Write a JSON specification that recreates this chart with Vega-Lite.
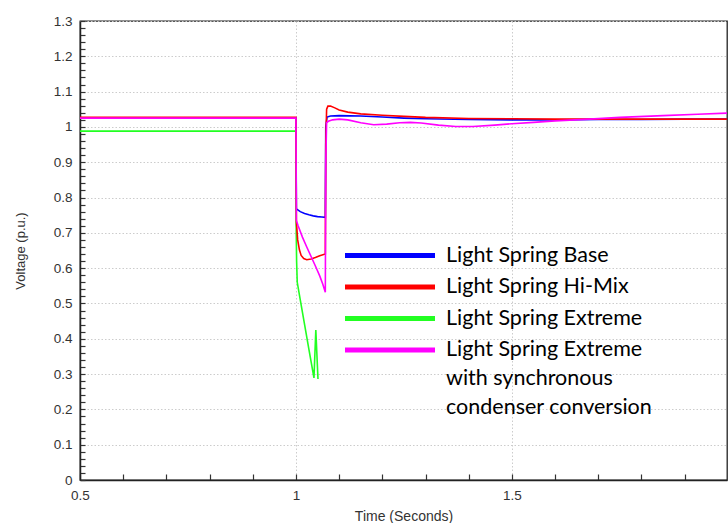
{
  "$schema": "https://vega.github.io/schema/vega-lite/v6.json",
  "autosize": {"type": "none"},
  "padding": {"left": 80, "top": 21, "right": 1, "bottom": 43},
  "width": 647,
  "height": 459,
  "background": "white",
  "config": {
    "view": {"stroke": "#222222", "strokeWidth": 1.3},
    "font": "Liberation Sans",
    "axis": {
      "labelFont": "Liberation Sans",
      "labelFontSize": 13.5,
      "labelColor": "#333333",
      "titleFont": "Liberation Sans",
      "titleFontWeight": "normal",
      "titleColor": "#333333",
      "domainColor": "#222222",
      "domainWidth": 1.5,
      "tickColor": "#333333",
      "tickWidth": 1.2,
      "gridDash": [1.5, 2],
      "gridWidth": 1,
      "labelOverlap": false,
      "labelFlush": false
    }
  },
  "data": {
    "values": [
      {"s": "Light Spring Base", "t": 0.5, "v": 1.025},
      {"s": "Light Spring Base", "t": 1.0, "v": 1.025},
      {"s": "Light Spring Base", "t": 1.001, "v": 0.768},
      {"s": "Light Spring Base", "t": 1.01, "v": 0.76},
      {"s": "Light Spring Base", "t": 1.02, "v": 0.755},
      {"s": "Light Spring Base", "t": 1.03, "v": 0.751},
      {"s": "Light Spring Base", "t": 1.04, "v": 0.748},
      {"s": "Light Spring Base", "t": 1.05, "v": 0.746},
      {"s": "Light Spring Base", "t": 1.06, "v": 0.745},
      {"s": "Light Spring Base", "t": 1.068, "v": 0.744},
      {"s": "Light Spring Base", "t": 1.069, "v": 1.0},
      {"s": "Light Spring Base", "t": 1.072, "v": 1.028},
      {"s": "Light Spring Base", "t": 1.08, "v": 1.031},
      {"s": "Light Spring Base", "t": 1.1, "v": 1.032},
      {"s": "Light Spring Base", "t": 1.15, "v": 1.031},
      {"s": "Light Spring Base", "t": 1.2, "v": 1.028},
      {"s": "Light Spring Base", "t": 1.25, "v": 1.025},
      {"s": "Light Spring Base", "t": 1.3, "v": 1.023},
      {"s": "Light Spring Base", "t": 1.4, "v": 1.021},
      {"s": "Light Spring Base", "t": 1.5, "v": 1.02},
      {"s": "Light Spring Base", "t": 1.6, "v": 1.02},
      {"s": "Light Spring Base", "t": 1.7, "v": 1.021},
      {"s": "Light Spring Base", "t": 1.8, "v": 1.021},
      {"s": "Light Spring Base", "t": 1.9, "v": 1.022},
      {"s": "Light Spring Base", "t": 1.998, "v": 1.022},

      {"s": "Light Spring Extreme", "t": 0.5, "v": 0.988},
      {"s": "Light Spring Extreme", "t": 1.0, "v": 0.988},
      {"s": "Light Spring Extreme", "t": 1.0005, "v": 0.72},
      {"s": "Light Spring Extreme", "t": 1.0015, "v": 0.62},
      {"s": "Light Spring Extreme", "t": 1.003, "v": 0.56},
      {"s": "Light Spring Extreme", "t": 1.01, "v": 0.51},
      {"s": "Light Spring Extreme", "t": 1.02, "v": 0.44},
      {"s": "Light Spring Extreme", "t": 1.03, "v": 0.37},
      {"s": "Light Spring Extreme", "t": 1.0417, "v": 0.289},
      {"s": "Light Spring Extreme", "t": 1.046, "v": 0.425},
      {"s": "Light Spring Extreme", "t": 1.051, "v": 0.286},

      {"s": "Light Spring Hi-Mix", "t": 0.5, "v": 1.027},
      {"s": "Light Spring Hi-Mix", "t": 1.0, "v": 1.027},
      {"s": "Light Spring Hi-Mix", "t": 1.001, "v": 0.73},
      {"s": "Light Spring Hi-Mix", "t": 1.004, "v": 0.68},
      {"s": "Light Spring Hi-Mix", "t": 1.008, "v": 0.652},
      {"s": "Light Spring Hi-Mix", "t": 1.012, "v": 0.636},
      {"s": "Light Spring Hi-Mix", "t": 1.018, "v": 0.627},
      {"s": "Light Spring Hi-Mix", "t": 1.025, "v": 0.624},
      {"s": "Light Spring Hi-Mix", "t": 1.035, "v": 0.626},
      {"s": "Light Spring Hi-Mix", "t": 1.045, "v": 0.63},
      {"s": "Light Spring Hi-Mix", "t": 1.055, "v": 0.635},
      {"s": "Light Spring Hi-Mix", "t": 1.068, "v": 0.64},
      {"s": "Light Spring Hi-Mix", "t": 1.069, "v": 0.95},
      {"s": "Light Spring Hi-Mix", "t": 1.071, "v": 1.05},
      {"s": "Light Spring Hi-Mix", "t": 1.074, "v": 1.059},
      {"s": "Light Spring Hi-Mix", "t": 1.08, "v": 1.059},
      {"s": "Light Spring Hi-Mix", "t": 1.09, "v": 1.054},
      {"s": "Light Spring Hi-Mix", "t": 1.1, "v": 1.048},
      {"s": "Light Spring Hi-Mix", "t": 1.12, "v": 1.042},
      {"s": "Light Spring Hi-Mix", "t": 1.15, "v": 1.037},
      {"s": "Light Spring Hi-Mix", "t": 1.2, "v": 1.033},
      {"s": "Light Spring Hi-Mix", "t": 1.25, "v": 1.03},
      {"s": "Light Spring Hi-Mix", "t": 1.3, "v": 1.027},
      {"s": "Light Spring Hi-Mix", "t": 1.4, "v": 1.024},
      {"s": "Light Spring Hi-Mix", "t": 1.5, "v": 1.023},
      {"s": "Light Spring Hi-Mix", "t": 1.6, "v": 1.022},
      {"s": "Light Spring Hi-Mix", "t": 1.8, "v": 1.022},
      {"s": "Light Spring Hi-Mix", "t": 1.998, "v": 1.022},

      {"s": "Light Spring Extreme with synchronous condenser conversion", "t": 0.5, "v": 1.025},
      {"s": "Light Spring Extreme with synchronous condenser conversion", "t": 1.0, "v": 1.025},
      {"s": "Light Spring Extreme with synchronous condenser conversion", "t": 1.001, "v": 0.735},
      {"s": "Light Spring Extreme with synchronous condenser conversion", "t": 1.005, "v": 0.72},
      {"s": "Light Spring Extreme with synchronous condenser conversion", "t": 1.015, "v": 0.688},
      {"s": "Light Spring Extreme with synchronous condenser conversion", "t": 1.025, "v": 0.66},
      {"s": "Light Spring Extreme with synchronous condenser conversion", "t": 1.035, "v": 0.633},
      {"s": "Light Spring Extreme with synchronous condenser conversion", "t": 1.045, "v": 0.606},
      {"s": "Light Spring Extreme with synchronous condenser conversion", "t": 1.055, "v": 0.578},
      {"s": "Light Spring Extreme with synchronous condenser conversion", "t": 1.062, "v": 0.555},
      {"s": "Light Spring Extreme with synchronous condenser conversion", "t": 1.068, "v": 0.532},
      {"s": "Light Spring Extreme with synchronous condenser conversion", "t": 1.069, "v": 0.9},
      {"s": "Light Spring Extreme with synchronous condenser conversion", "t": 1.071, "v": 1.012},
      {"s": "Light Spring Extreme with synchronous condenser conversion", "t": 1.075, "v": 1.016},
      {"s": "Light Spring Extreme with synchronous condenser conversion", "t": 1.085, "v": 1.02},
      {"s": "Light Spring Extreme with synchronous condenser conversion", "t": 1.1, "v": 1.022},
      {"s": "Light Spring Extreme with synchronous condenser conversion", "t": 1.12, "v": 1.02},
      {"s": "Light Spring Extreme with synchronous condenser conversion", "t": 1.15, "v": 1.012},
      {"s": "Light Spring Extreme with synchronous condenser conversion", "t": 1.18, "v": 1.006},
      {"s": "Light Spring Extreme with synchronous condenser conversion", "t": 1.21, "v": 1.008},
      {"s": "Light Spring Extreme with synchronous condenser conversion", "t": 1.24, "v": 1.012},
      {"s": "Light Spring Extreme with synchronous condenser conversion", "t": 1.265, "v": 1.013},
      {"s": "Light Spring Extreme with synchronous condenser conversion", "t": 1.29, "v": 1.011},
      {"s": "Light Spring Extreme with synchronous condenser conversion", "t": 1.33, "v": 1.005},
      {"s": "Light Spring Extreme with synchronous condenser conversion", "t": 1.37, "v": 1.001},
      {"s": "Light Spring Extreme with synchronous condenser conversion", "t": 1.41, "v": 1.001},
      {"s": "Light Spring Extreme with synchronous condenser conversion", "t": 1.46, "v": 1.005},
      {"s": "Light Spring Extreme with synchronous condenser conversion", "t": 1.5, "v": 1.009},
      {"s": "Light Spring Extreme with synchronous condenser conversion", "t": 1.55, "v": 1.013},
      {"s": "Light Spring Extreme with synchronous condenser conversion", "t": 1.6, "v": 1.017},
      {"s": "Light Spring Extreme with synchronous condenser conversion", "t": 1.68, "v": 1.022},
      {"s": "Light Spring Extreme with synchronous condenser conversion", "t": 1.75, "v": 1.027},
      {"s": "Light Spring Extreme with synchronous condenser conversion", "t": 1.85, "v": 1.032},
      {"s": "Light Spring Extreme with synchronous condenser conversion", "t": 1.93, "v": 1.036},
      {"s": "Light Spring Extreme with synchronous condenser conversion", "t": 1.998, "v": 1.039}
    ]
  },
  "mark": {"type": "line", "strokeWidth": 1.6, "clip": true},
  "encoding": {
    "x": {
      "field": "t",
      "type": "quantitative",
      "scale": {"domain": [0.5, 1.998], "nice": false, "zero": false},
      "axis": {
        "title": "Time (Seconds)",
        "titleFontSize": 14,
        "titlePadding": 8,
        "values": [0.5, 0.6, 0.7, 0.8, 0.9, 1.0, 1.1, 1.2, 1.3, 1.4, 1.5, 1.6, 1.7, 1.8, 1.9],
        "labelExpr": "abs(datum.value*2-round(datum.value*2))<0.001 ? format(round(datum.value*2)/2,'~g') : ''",
        "tickSize": -6,
        "labelPadding": 14,
        "gridColor": {"condition": {"test": "abs(datum.value*2-round(datum.value*2))<0.001", "value": "#cccccc"}, "value": "rgba(0,0,0,0)"}
      }
    },
    "y": {
      "field": "v",
      "type": "quantitative",
      "scale": {"domain": [0, 1.3], "nice": false, "zero": false},
      "axis": {
        "title": "Voltage (p.u.)",
        "titleFontSize": 13,
        "titlePadding": 26,
        "values": [0, 0.02, 0.04, 0.06, 0.08, 0.1, 0.12, 0.14, 0.16, 0.18, 0.2, 0.22, 0.24, 0.26, 0.28, 0.3, 0.32, 0.34, 0.36, 0.38, 0.4, 0.42, 0.44, 0.46, 0.48, 0.5, 0.52, 0.54, 0.56, 0.58, 0.6, 0.62, 0.64, 0.66, 0.68, 0.7, 0.72, 0.74, 0.76, 0.78, 0.8, 0.82, 0.84, 0.86, 0.88, 0.9, 0.92, 0.94, 0.96, 0.98, 1.0, 1.02, 1.04, 1.06, 1.08, 1.1, 1.12, 1.14, 1.16, 1.18, 1.2, 1.22, 1.24, 1.26, 1.28, 1.3],
        "labelExpr": "abs(datum.value*10-round(datum.value*10))<0.001 ? format(round(datum.value*10)/10,'~g') : ''",
        "tickSize": -5,
        "labelPadding": 13,
        "gridColor": {"condition": {"test": "abs(datum.value*10-round(datum.value*10))<0.001", "value": "#cccccc"}, "value": "rgba(0,0,0,0)"}
      }
    },
    "color": {
      "field": "s",
      "type": "nominal",
      "scale": {
        "domain": ["Light Spring Base", "Light Spring Hi-Mix", "Light Spring Extreme", "Light Spring Extreme with synchronous condenser conversion"],
        "range": ["#0000ff", "#ff0000", "#22ff22", "#ff00ff"]
      },
      "legend": {
        "title": null,
        "orient": "none",
        "legendX": 297.5,
        "legendY": 222,
        "padding": 0,
        "symbolType": "M-4.5,0H4.5",
        "symbolSize": 400,
        "symbolStrokeWidth": 5,
        "labelOffset": 43.5,
        "labelFont": "Lato",
        "labelFontSize": 21.5,
        "labelColor": "#000000",
        "labelLimit": 400,
        "rowPadding": 8.5,
        "labelExpr": "datum.label == 'Light Spring Extreme with synchronous condenser conversion' ? ['Light Spring Extreme', 'with synchronous', 'condenser conversion'] : datum.label",
        "encode": {
          "symbols": {"update": {"stroke": {"signal": "datum.value == 'Light Spring Extreme' ? '#00b050' : scale('color', datum.value)"}}},
          "labels": {"update": {"lineHeight": {"value": 29}}}
        }
      }
    }
  }
}
